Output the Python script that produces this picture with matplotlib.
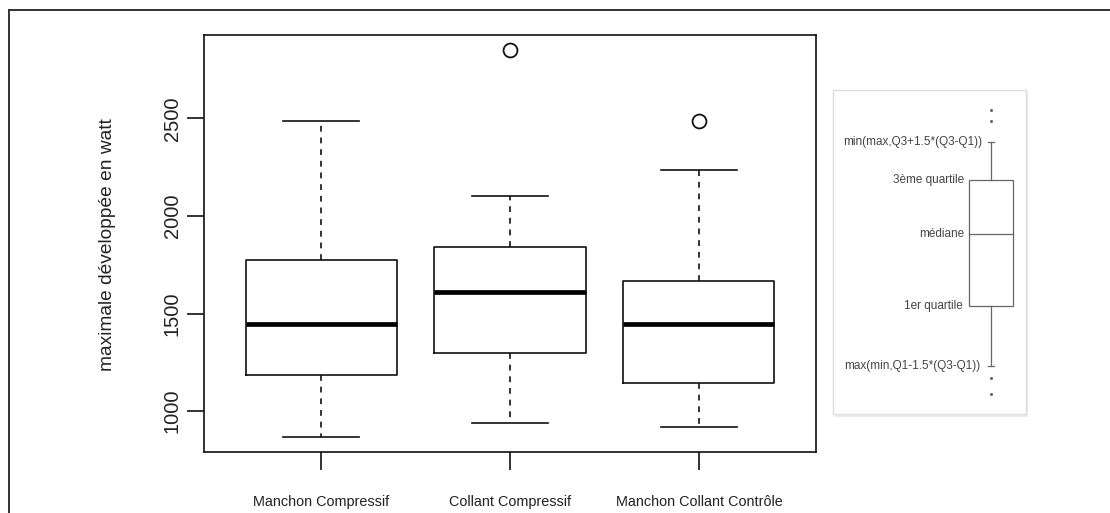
import matplotlib
matplotlib.use("Agg")
import matplotlib.pyplot as plt
from matplotlib.lines import Line2D
from matplotlib.patches import Rectangle

plt.rcParams['font.family'] = ['Liberation Sans', 'DejaVu Sans']

# --- data ---
groups = ["Manchon Compressif", "Collant Compressif", "Manchon Collant Contrôle"]
whislo = [870, 938, 921]
q1 = [1187, 1298, 1146]
med = [1449, 1611, 1445]
q3 = [1774, 1842, 1666]
whishi = [2487, 2102, 2236]
outliers = [[], [2848], [2484]]
y_ticks = [1000, 1500, 2000, 2500]
y_label = "maximale développée en watt"

# schematic key on the right (arbitrary units 0-100)
leg_labels = ["min(max,Q3+1.5*(Q3-Q1))", "3ème quartile", "médiane",
              "1er quartile", "max(min,Q1-1.5*(Q3-Q1))"]
leg_hi, leg_q3, leg_med, leg_q1, leg_lo = 84, 72.2, 55.6, 33.4, 14.8
leg_points = [93.8, 90.5, 11.2, 6.2]

W, H = 1110, 513
fig = plt.figure(figsize=(W / 100, H / 100), dpi=100)

# outer frame (top + left edges only)
fig.add_artist(Line2D([9 / W, 1], [1 - 10 / H, 1 - 10 / H], color="#333333", lw=1.4))
fig.add_artist(Line2D([9 / W, 9 / W], [0, 1 - 10 / H], color="#333333", lw=1.4))

# main boxplot
ax = fig.add_axes([204 / W, 1 - 452 / H, (816 - 204) / W, (452 - 35) / H])
stats = []
for i, g in enumerate(groups):
    stats.append(dict(label=g, whislo=whislo[i], q1=q1[i], med=med[i],
                      q3=q3[i], whishi=whishi[i], fliers=outliers[i]))

lw = 1.2
ax.bxp(stats, positions=[1, 2, 3], widths=0.8, capwidths=0.4,
       boxprops=dict(color="#111111", lw=lw),
       medianprops=dict(color="black", lw=3.4, solid_capstyle="butt"),
       whiskerprops=dict(color="#111111", lw=lw, linestyle=(0, (3.5, 3.5))),
       capprops=dict(color="#111111", lw=lw),
       flierprops=dict(marker="o", markerfacecolor="none",
                       markeredgecolor="#111111", markersize=10, markeredgewidth=1.3))

ax.set_xlim(0.38, 3.62)
ax.set_ylim(791, 2927)
ax.set_yticks(y_ticks)
ax.set_xticks([1, 2, 3])
ax.set_xticklabels(groups, fontsize=10.4, color="#222222")
ax.tick_params(axis="x", length=13, width=lw, pad=18, color="#111111")
ax.tick_params(axis="y", length=12, width=lw, pad=4, labelsize=14.5,
               labelrotation=90, color="#111111", labelcolor="#222222")
for t in ax.get_yticklabels():
    t.set_va("center")
for s in ax.spines.values():
    s.set_linewidth(lw)
    s.set_color("#111111")

fig.text(107 / W, 1 - 245 / H, y_label, rotation=90, ha="center", va="center",
         fontsize=13.8, color="#222222")

# key panel
px0, px1, py0, py1 = 833, 1026, 90, 414
kax = fig.add_axes([px0 / W, 1 - py1 / H, (px1 - px0) / W, (py1 - py0) / H])
kax.set_xlim(0, 1)
kax.set_ylim(0, 100)
kax.axis("off")
# soft shadow, then the white card
kax.add_patch(Rectangle((0.012, -0.01), 1, 1, transform=kax.transAxes, facecolor="#ececec",
                        edgecolor="none", zorder=0, clip_on=False))
kax.add_patch(Rectangle((0, 0), 1, 1, transform=kax.transAxes, facecolor="white",
                        edgecolor="#dddddd", lw=1.0, zorder=0.5, clip_on=False))

kc = 0.819
kw = 0.114
gray = "#666666"
kax.add_patch(Rectangle((kc - kw, leg_q1), 2 * kw, leg_q3 - leg_q1, facecolor="none",
                        edgecolor=gray, lw=0.9, zorder=2))
kax.plot([kc - kw, kc + kw], [leg_med, leg_med], color=gray, lw=0.9)
kax.plot([kc, kc], [leg_q3, leg_hi], color=gray, lw=0.9)
kax.plot([kc, kc], [leg_q1, leg_lo], color=gray, lw=0.9)
kax.plot([kc - 0.015, kc + 0.015], [leg_hi, leg_hi], color=gray, lw=0.9)
kax.plot([kc - 0.015, kc + 0.015], [leg_lo, leg_lo], color=gray, lw=0.9)
kax.plot([kc] * len(leg_points), leg_points, "o", color=gray, ms=2.2, mec="none")

tc = "#444444"
fs = 8.5
kax.text(kc - 0.045, leg_hi, leg_labels[0], ha="right", va="center", fontsize=fs, color=tc)
kax.text(kc - kw - 0.025, leg_q3, leg_labels[1], ha="right", va="center", fontsize=fs, color=tc)
kax.text(kc - kw - 0.025, leg_med, leg_labels[2], ha="right", va="center", fontsize=fs, color=tc)
kax.text(kc - kw - 0.035, leg_q1, leg_labels[3], ha="right", va="center", fontsize=fs, color=tc)
kax.text(kc - 0.055, leg_lo, leg_labels[4], ha="right", va="center", fontsize=fs, color=tc)

fig.savefig("out.png", dpi=100)
